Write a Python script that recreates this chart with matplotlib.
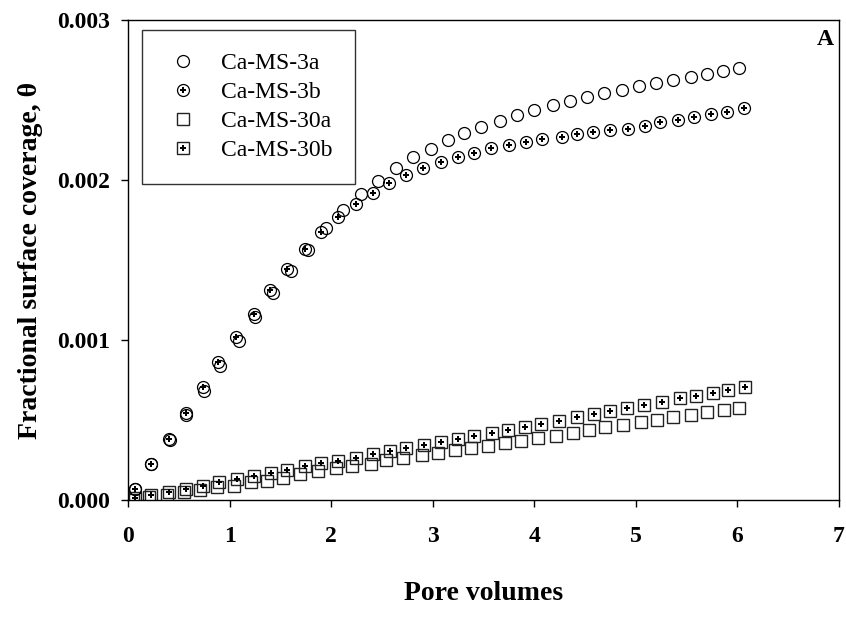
import numpy as np
import matplotlib
matplotlib.use('Agg')
import matplotlib.pyplot as plt
from matplotlib.lines import Line2D

# Ca-MS-3a (open circles)
x_3a = [0.07, 0.23, 0.41, 0.57, 0.75, 0.91, 1.09, 1.25, 1.43, 1.60, 1.77,
        1.95, 2.12, 2.29, 2.46, 2.64, 2.81, 2.98, 3.15, 3.31, 3.48, 3.66,
        3.83, 4.00, 4.18, 4.35, 4.52, 4.69, 4.86, 5.03, 5.20, 5.37, 5.54,
        5.70, 5.86, 6.02]
y_3a = [0.00007, 0.000224, 0.000375, 0.000533, 0.000684, 0.000835,
        0.000992, 0.001143, 0.001292, 0.001434, 0.001561, 0.001698,
        0.00181, 0.001912, 0.001994, 0.002076, 0.002141, 0.002196,
        0.002251, 0.002294, 0.002329, 0.002369, 0.002404, 0.002435,
        0.002466, 0.002492, 0.002518, 0.002541, 0.002565, 0.002588,
        0.002606, 0.002625, 0.002645, 0.002663, 0.002681, 0.002698]

# Ca-MS-3b (circles with a plus)
x_3b = [0.07, 0.23, 0.40, 0.57, 0.74, 0.89, 1.06, 1.24, 1.40, 1.57, 1.74,
        1.90, 2.07, 2.24, 2.41, 2.57, 2.74, 2.90, 3.08, 3.25, 3.41, 3.57,
        3.75, 3.92, 4.08, 4.27, 4.42, 4.58, 4.75, 4.92, 5.09, 5.24, 5.41,
        5.57, 5.74, 5.90, 6.06]
y_3b = [0.00007, 0.000224, 0.000384, 0.000545, 0.000704, 0.000863,
        0.00102, 0.001163, 0.00131, 0.001443, 0.001567, 0.001672,
        0.001766, 0.001849, 0.001919, 0.001981, 0.002029, 0.002076,
        0.002114, 0.002145, 0.002171, 0.002198, 0.002218, 0.002235,
        0.002255, 0.002271, 0.002286, 0.0023, 0.00231, 0.00232, 0.00234,
        0.00236, 0.002375, 0.002392, 0.00241, 0.002428, 0.002453]

# Ca-MS-30a (open squares)
x_30a = [0.05, 0.21, 0.38, 0.55, 0.71, 0.88, 1.04, 1.21, 1.37, 1.53, 1.69,
         1.87, 2.05, 2.21, 2.39, 2.54, 2.71, 2.89, 3.05, 3.22, 3.38, 3.54,
         3.71, 3.87, 4.04, 4.21, 4.38, 4.54, 4.70, 4.87, 5.05, 5.21, 5.37,
         5.54, 5.70, 5.87, 6.02]
y_30a = [0.0, 0.00002, 0.00003, 0.00005, 0.00006, 0.00008, 0.00009,
         0.00011, 0.00012, 0.00014, 0.00016, 0.000182, 0.000198,
         0.000212, 0.000228, 0.000247, 0.000261, 0.000281, 0.000296,
         0.00031, 0.000322, 0.000335, 0.000355, 0.000371, 0.000386,
         0.0004, 0.000419, 0.000435, 0.000455, 0.000469, 0.000486,
         0.000502, 0.000518, 0.000534, 0.000547, 0.000561, 0.000576]

# Ca-MS-30b (squares with a plus)
x_30b = [0.07, 0.23, 0.40, 0.57, 0.74, 0.90, 1.07, 1.24, 1.41, 1.57, 1.74,
         1.90, 2.07, 2.24, 2.41, 2.58, 2.74, 2.91, 3.08, 3.25, 3.41, 3.58,
         3.74, 3.91, 4.07, 4.24, 4.42, 4.59, 4.75, 4.91, 5.08, 5.26, 5.43,
         5.59, 5.76, 5.91, 6.07]
y_30b = [0.00001, 0.00003, 0.00005, 0.00007, 0.00009, 0.00011, 0.00013,
         0.00015, 0.00017, 0.00019, 0.00021, 0.00023, 0.000245, 0.000263,
         0.000286, 0.000306, 0.000325, 0.000345, 0.000361, 0.000381,
         0.0004, 0.000419, 0.000439, 0.000459, 0.000478, 0.000496,
         0.000518, 0.000537, 0.000555, 0.000578, 0.000592, 0.000612,
         0.000635, 0.000651, 0.000671, 0.000686, 0.000704]

labels = ['Ca-MS-3a', 'Ca-MS-3b', 'Ca-MS-30a', 'Ca-MS-30b']
x_ticks = [0, 1, 2, 3, 4, 5, 6, 7]
y_ticks = [0.000, 0.001, 0.002, 0.003]

plt.rcParams['font.family'] = ['Liberation Serif', 'DejaVu Serif']

fig = plt.figure(figsize=(8.46, 6.28), dpi=100)
ax = fig.add_axes([128 / 846, 1 - 500 / 628, 711 / 846, 480 / 628])

ms = 8.6
open_circ = dict(marker='o', ms=ms, mfc='none', mec='black', mew=0.9,
                 ls='none')
open_sq = dict(marker='s', ms=ms, mfc='none', mec='#222222', mew=1.0,
               ls='none')
plus = dict(marker='P', ms=4.5, color='black', mew=0, ls='none')

ax.plot(x_30a, y_30a, **open_sq)
ax.plot(x_30b, y_30b, **open_sq)
ax.plot(x_30b, y_30b, **plus)
ax.plot(x_3a, y_3a, **open_circ)
ax.plot(x_3b, y_3b, **open_circ)
ax.plot(x_3b, y_3b, **plus)

ax.set_xlim(0, 7)
ax.set_ylim(0, 0.003)
ax.set_xticks(x_ticks)
ax.set_yticks(y_ticks)
ax.set_xticklabels([str(t) for t in x_ticks], fontsize=17,
                   fontweight='bold')
ax.set_yticklabels(['%.3f' % t for t in y_ticks], fontsize=17,
                   fontweight='bold')
ax.tick_params(direction='out', length=5, width=1)
ax.tick_params(axis='x', pad=14)
ax.tick_params(axis='y', pad=8)
for s in ax.spines.values():
    s.set_linewidth(1.0)

ax.set_xlabel('Pore volumes', fontsize=20, fontweight='bold', labelpad=24)
ax.set_ylabel('Fractional surface coverage, \u03b8', fontsize=20,
              fontweight='bold', labelpad=10)

ax.text(0.993, 0.96, 'A', transform=ax.transAxes, ha='right', va='center',
        fontsize=17, fontweight='bold')

# legend handles: overlay plus on the open markers
h_3a = Line2D([], [], **open_circ)
h_3b = (Line2D([], [], **open_circ), Line2D([], [], **plus))
h_30a = Line2D([], [], **open_sq)
h_30b = (Line2D([], [], **open_sq), Line2D([], [], **plus))
leg = ax.legend([h_3a, h_3b, h_30a, h_30b], labels, loc='upper left',
                bbox_to_anchor=(142 / 846, 1 - 30 / 628),
                bbox_transform=fig.transFigure, borderaxespad=0,
                fontsize=17, frameon=True, fancybox=False, borderpad=0.95,
                handlelength=1.6, handletextpad=0.8, labelspacing=0.32)
leg.get_frame().set_edgecolor('black')
leg.get_frame().set_linewidth(1.0)

fig.savefig('out.png', dpi=100)
